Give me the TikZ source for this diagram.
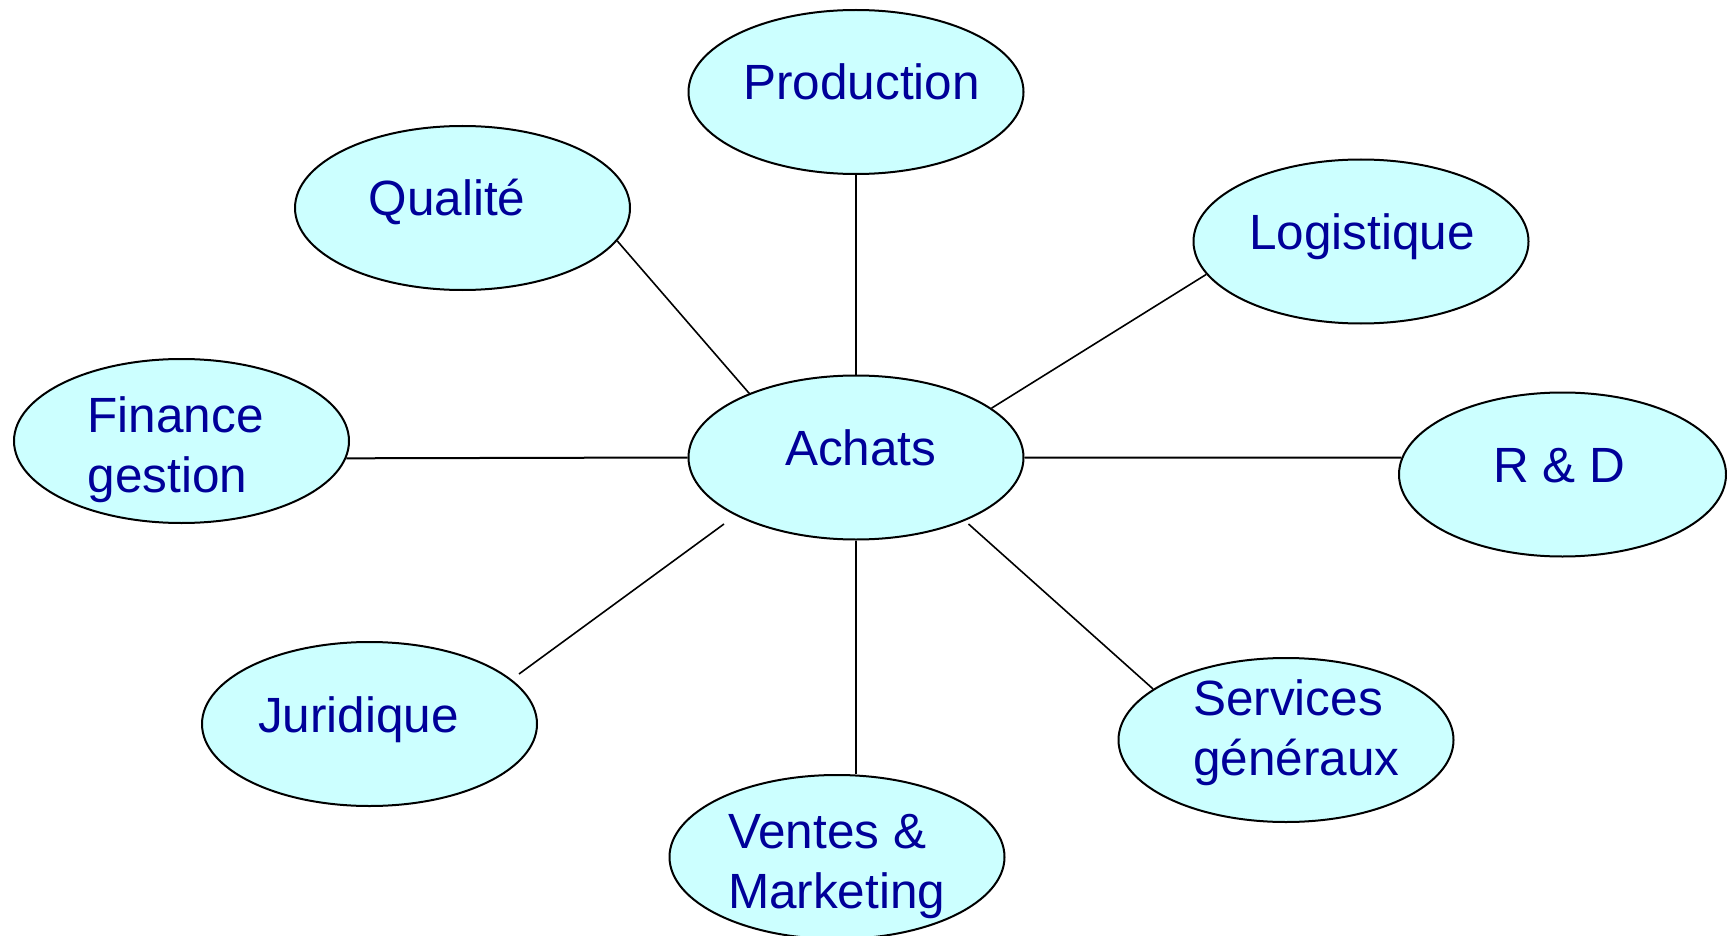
\documentclass[tikz,border=0pt]{standalone}
\usepackage{fontspec}
\setmainfont{Liberation Sans}
\usetikzlibrary{shapes.geometric}
\definecolor{ellfill}{RGB}{204,255,255}
\definecolor{txtblue}{RGB}{0,0,153}
\tikzset{
  ell/.style={ellipse, draw=black, fill=ellfill, line width=2pt, minimum width=335pt, minimum height=164pt, inner sep=0pt},
  lbl/.style={anchor=base west, inner sep=0pt, outer sep=0pt, text=txtblue, align=left, font=\fontsize{49.5}{60}\selectfont},
  conn/.style={draw=black, line width=2pt}
}
\begin{document}
\begin{tikzpicture}[x=1pt,y=-1pt]
\useasboundingbox (0,0) rectangle (1727,936);
% ellipses
\node[ell] (p) at (856,92) {};
\node[ell] (q) at (462.5,208) {};
\node[ell] (f) at (181.5,441) {};
\node[ell] (a) at (856,457.5) {};
\node[ell] (l) at (1361,241.5) {};
\node[ell, minimum width=327pt] (r) at (1562.5,474.5) {};
\node[ell] (j) at (369.5,724) {};
\node[ell] (v) at (837,857) {};
\node[ell] (s) at (1286,740) {};
% connectors
\draw[conn] (p.south) -- (a.north);
\draw[conn] (a.south) -- (a.south |- v.north);
\draw[conn] (f.-6) -- (a.west);
\draw[conn] (a.east) -- (r.174.5);
\draw[conn, line width=1.6pt] (q.-12.7) -- (a.149.5);
\draw[conn, line width=1.6pt] (l.192.6) -- (a.20.8);
\draw[conn, line width=1.6pt] ([shift={(-132,66.5)}]a.center) -- ([shift={(149.5,-50)}]j.center);
\draw[conn, line width=1.6pt] ([shift={(112.5,66.5)}]a.center) -- (s.159.1);
% labels
\node[lbl] (tp) at (743.2,100) {Production};
\node[lbl] (tq) at (368.6,216) {Qualité};
\node[lbl] (tf) at (87.5,492) {Finance\\gestion};
\node[lbl] (ta) at (785,465) {Achats};
\node[lbl] (tl) at (1249.4,250) {Logistique};
\node[lbl] (tr) at (1493.1,482) {R \& D};
\node[lbl] (tj) at (258.2,732) {Juridique};
\node[lbl] (tv) at (728,908) {Ventes \&\\Marketing};
\node[lbl] (ts) at (1193.2,775) {Services\\généraux};
\end{tikzpicture}
\end{document}
